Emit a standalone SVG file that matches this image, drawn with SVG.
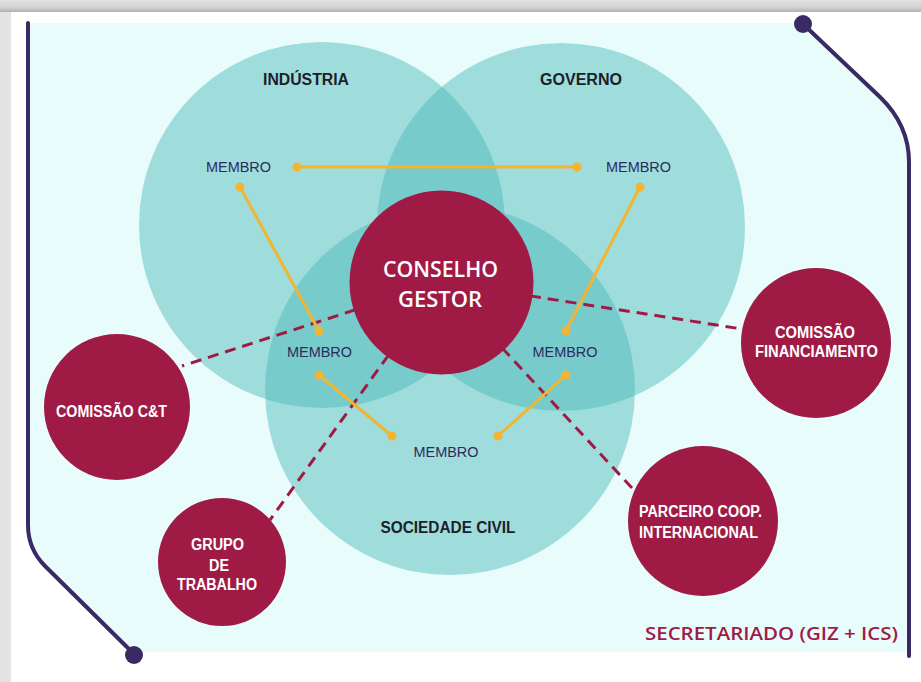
<svg xmlns="http://www.w3.org/2000/svg" width="921" height="682" viewBox="0 0 921 682">
  <defs>
    <linearGradient id="gTop" x1="0" y1="0" x2="0" y2="1">
      <stop offset="0" stop-color="#e2e2e2"/>
      <stop offset="0.6" stop-color="#d2d2d2"/>
      <stop offset="1" stop-color="#b2b2b2"/>
    </linearGradient>
    <linearGradient id="gLeft" x1="0" y1="0" x2="1" y2="0">
      <stop offset="0" stop-color="#e4e4e4"/>
      <stop offset="1" stop-color="#c4c4c4"/>
    </linearGradient>
    <style>
      .venn { fill: #46b7b6; fill-opacity: 0.45; }
      .frame { fill: none; stroke: #3a2a63; stroke-width: 4; stroke-linecap: round; }
      .dot { fill: #3a2a63; }
      .node { fill: #9f1b45; }
      .yl { stroke: #f2b532; stroke-width: 3; fill: none; }
      .yd { fill: #f2b532; }
      .dash { stroke: #9f1b45; stroke-width: 3; stroke-dasharray: 11 7; fill: none; }
      .wt { font-family: "Liberation Sans Narrow", "Liberation Sans", Arial, sans-serif; font-weight: bold; fill: #ffffff; text-anchor: middle; }
      .big { font-family: "Open Sans", "Liberation Sans", Arial, sans-serif; font-weight: 600; fill: #ffffff; text-anchor: middle; font-size: 21px; }
      .lab { font-family: "Liberation Sans Narrow", "Liberation Sans", Arial, sans-serif; font-weight: bold; fill: #1e1e2a; text-anchor: middle; font-size: 16px; }
      .mem { font-family: "Liberation Sans", Arial, sans-serif; fill: #2e2a5e; text-anchor: middle; font-size: 14px; }
      .sec { font-family: "Open Sans", "Liberation Sans", Arial, sans-serif; font-weight: 600; fill: #9f1b45; font-size: 18px; }
    </style>
  </defs>

  <!-- paper + shadow -->
  <rect x="0" y="0" width="921" height="682" fill="url(#gLeft)"/>
  <rect x="0" y="0" width="921" height="12" fill="url(#gTop)"/>
  <rect x="11" y="12" width="910" height="670" fill="#ffffff"/>

  <!-- background area -->
  <path d="M 28 23 H 803 L 880 97 Q 909 125 909 162 V 652 H 131 L 45 566 Q 28 549 28 525 Z" fill="#e8fcfb"/>

  <!-- Venn circles -->
  <g id="venn">
    <circle class="venn" cx="322" cy="225" r="183"/>
    <circle class="venn" cx="561" cy="227" r="184"/>
    <circle class="venn" cx="450" cy="390" r="185"/>
  </g>

  <!-- frame lines -->
  <g id="frame">
    <path class="frame" d="M 28 23 V 525 Q 28 549 45 566 L 134 654"/>
    <path class="frame" d="M 803 24 L 880 97 Q 909 125 909 162 V 656"/>
    <circle class="dot" cx="803" cy="24" r="9"/>
    <circle class="dot" cx="134" cy="655" r="9"/>
  </g>

  <!-- connectors -->
  <g id="connectors">
    <line class="dash" x1="441" y1="282" x2="182" y2="366"/>
    <line class="dash" x1="441" y1="282" x2="742" y2="329"/>
    <line class="dash" x1="441" y1="282" x2="270" y2="520"/>
    <line class="dash" x1="441" y1="282" x2="632" y2="488"/>

    <line class="yl" x1="297" y1="167" x2="577" y2="167"/>
    <line class="yl" x1="240" y1="187" x2="319" y2="331"/>
    <line class="yl" x1="640" y1="187" x2="566" y2="331"/>
    <line class="yl" x1="319" y1="375" x2="392" y2="436"/>
    <line class="yl" x1="566" y1="375" x2="498" y2="436"/>
    <g class="yd">
      <circle cx="297" cy="167" r="4.5"/><circle cx="577" cy="167" r="4.5"/>
      <circle cx="240" cy="187" r="4.5"/><circle cx="319" cy="331" r="4.5"/>
      <circle cx="640" cy="187" r="4.5"/><circle cx="566" cy="331" r="4.5"/>
      <circle cx="319" cy="375" r="4.5"/><circle cx="392" cy="436" r="4.5"/>
      <circle cx="566" cy="375" r="4.5"/><circle cx="498" cy="436" r="4.5"/>
    </g>
  </g>

  <!-- set labels -->
  <g id="industria"><text class="lab" x="306" y="85" textLength="86" lengthAdjust="spacingAndGlyphs">INDÚSTRIA</text></g>
  <g id="governo"><text class="lab" x="581" y="85" textLength="82" lengthAdjust="spacingAndGlyphs">GOVERNO</text></g>
  <g id="sociedade"><text class="lab" x="448" y="533" textLength="135" lengthAdjust="spacingAndGlyphs">SOCIEDADE CIVIL</text></g>

  <!-- members -->
  <g id="membro-1"><text class="mem" x="238.5" y="172" textLength="65" lengthAdjust="spacingAndGlyphs">MEMBRO</text></g>
  <g id="membro-2"><text class="mem" x="638.5" y="172" textLength="65" lengthAdjust="spacingAndGlyphs">MEMBRO</text></g>
  <g id="membro-3"><text class="mem" x="319.5" y="357" textLength="65" lengthAdjust="spacingAndGlyphs">MEMBRO</text></g>
  <g id="membro-4"><text class="mem" x="565" y="357" textLength="65" lengthAdjust="spacingAndGlyphs">MEMBRO</text></g>
  <g id="membro-5"><text class="mem" x="446" y="457" textLength="65" lengthAdjust="spacingAndGlyphs">MEMBRO</text></g>

  <!-- Conselho Gestor -->
  <g id="conselho">
    <circle class="node" cx="441.5" cy="282.5" r="92"/>
    <text class="big" x="440.5" y="277" textLength="115" lengthAdjust="spacingAndGlyphs">CONSELHO</text>
    <text class="big" x="440" y="307" textLength="84" lengthAdjust="spacingAndGlyphs">GESTOR</text>
  </g>

  <g id="comissao-ct">
    <circle class="node" cx="117" cy="407" r="73"/>
    <text class="wt" x="111.5" y="417" font-size="16" textLength="111" lengthAdjust="spacingAndGlyphs">COMISSÃO C&amp;T</text>
  </g>

  <g id="comissao-fin">
    <circle class="node" cx="816" cy="343" r="75"/>
    <text class="wt" x="815" y="338" font-size="16" textLength="80" lengthAdjust="spacingAndGlyphs">COMISSÃO</text>
    <text class="wt" x="816.5" y="357" font-size="16" textLength="123" lengthAdjust="spacingAndGlyphs">FINANCIAMENTO</text>
  </g>

  <g id="grupo">
    <circle class="node" cx="222" cy="562" r="64"/>
    <text class="wt" x="217.5" y="550" font-size="16" textLength="53" lengthAdjust="spacingAndGlyphs">GRUPO</text>
    <text class="wt" x="219" y="571" font-size="16" textLength="20" lengthAdjust="spacingAndGlyphs">DE</text>
    <text class="wt" x="217" y="590" font-size="16" textLength="80" lengthAdjust="spacingAndGlyphs">TRABALHO</text>
  </g>

  <g id="parceiro">
    <circle class="node" cx="703" cy="521" r="75"/>
    <text class="wt" x="700.5" y="517" font-size="16" textLength="123" lengthAdjust="spacingAndGlyphs">PARCEIRO COOP.</text>
    <text class="wt" x="698.5" y="538" font-size="16" textLength="119" lengthAdjust="spacingAndGlyphs">INTERNACIONAL</text>
  </g>

  <g id="secretariado">
    <text class="sec" x="645" y="640" textLength="253" lengthAdjust="spacingAndGlyphs">SECRETARIADO (GIZ + ICS)</text>
  </g>
</svg>
